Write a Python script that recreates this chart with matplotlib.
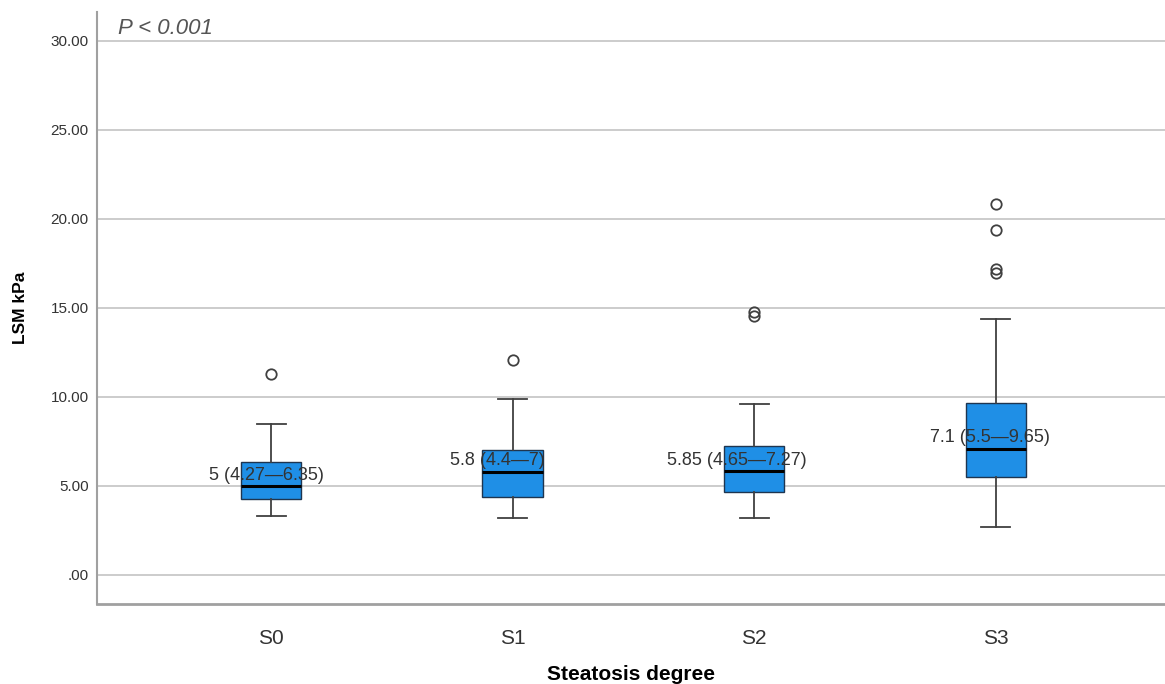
import numpy as np
import matplotlib.pyplot as plt

plt.rcParams['font.family'] = ['Liberation Sans', 'DejaVu Sans']

# values
groups = ["S0", "S1", "S2", "S3"]
medians = [5.0, 5.8, 5.85, 7.1]
q1 = [4.27, 4.4, 4.65, 5.5]
q3 = [6.35, 7.0, 7.27, 9.65]
whislo = [3.3, 3.2, 3.18, 2.68]
whishi = [8.48, 9.89, 9.59, 14.38]
outliers = [[11.3], [12.1], [14.55, 14.75], [20.83, 19.4, 17.2, 16.95]]
labels = ["5 (4.27\u20146.35)", "5.8 (4.4\u20147)", "5.85 (4.65\u20147.27)", "7.1 (5.5\u20149.65)"]
label_dx = [-0.017, -0.062, -0.074, -0.025]

stats = []
for i in range(len(groups)):
    stats.append(dict(med=medians[i], q1=q1[i], q3=q3[i], whislo=whislo[i],
                      whishi=whishi[i], fliers=outliers[i], label=groups[i]))

fig = plt.figure(figsize=(11.65, 6.84), dpi=100)
ax = fig.add_axes([0.0833, 0.117, 0.9167, 0.865])

pos = np.arange(len(groups))
ax.bxp(stats, positions=pos, widths=0.25, patch_artist=True,
       boxprops=dict(facecolor='#1f8fe6', edgecolor='#1e3550', linewidth=1.0),
       medianprops=dict(color='black', linewidth=2.2),
       whiskerprops=dict(color='#404040', linewidth=1.3),
       capprops=dict(color='#404040', linewidth=1.3),
       capwidths=0.12,
       flierprops=dict(marker='o', markerfacecolor='none', markeredgecolor='#404040',
                       markersize=7.5, markeredgewidth=1.3),
       zorder=3)

for i in range(len(groups)):
    ax.text(pos[i] + label_dx[i], medians[i] + 0.6, labels[i], ha='center', va='center',
            fontsize=13, color='#333333', zorder=4)

ax.set_xlim(-0.72, 3.7)
ax.set_ylim(-1.63, 31.6)
ax.set_yticks([0, 5, 10, 15, 20, 25, 30])
ax.set_yticklabels([".00", "5.00", "10.00", "15.00", "20.00", "25.00", "30.00"])
ax.yaxis.grid(True, color='#c8c8c8', linewidth=1.3, zorder=0)
ax.set_axisbelow(True)
ax.tick_params(axis='y', length=0, pad=6, labelsize=11, labelcolor='#333333')
ax.tick_params(axis='x', length=0, pad=18, labelsize=15, labelcolor='#333333')

for s in ['top', 'right']:
    ax.spines[s].set_visible(False)
ax.spines['left'].set_color('#a0a0a0')
ax.spines['left'].set_linewidth(1.5)
ax.spines['bottom'].set_color('#a0a0a0')
ax.spines['bottom'].set_linewidth(2)

ax.set_xlabel("Steatosis degree", fontsize=15, fontweight='bold', labelpad=12)
ax.set_ylabel("LSM kPa", fontsize=12.5, fontweight='bold', labelpad=16)
ax.text(0.02, 0.973, "P < 0.001", transform=ax.transAxes, fontsize=16,
        style='italic', color='#555555', va='center', ha='left')

fig.savefig("out.png", dpi=100)
